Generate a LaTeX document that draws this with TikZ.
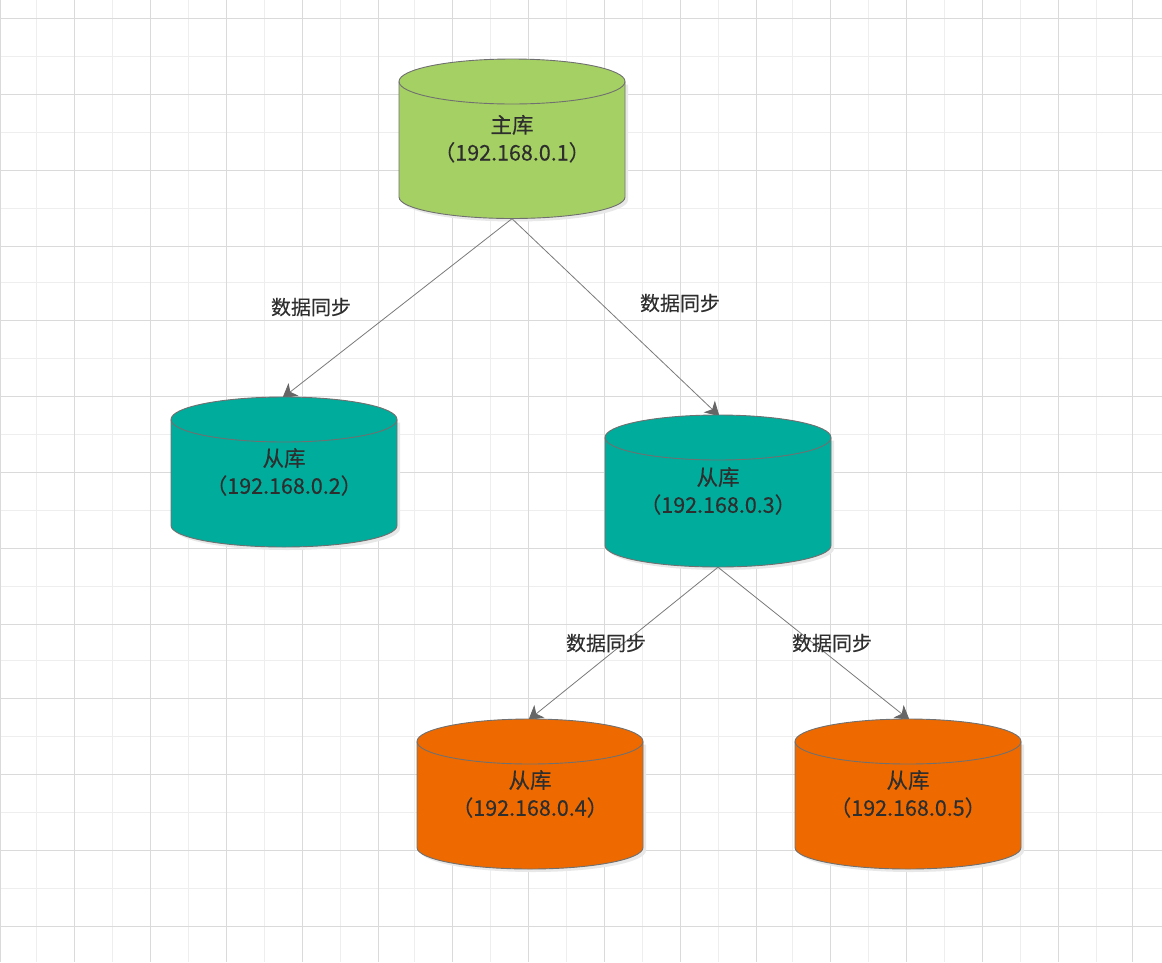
\documentclass[tikz,border=0pt]{standalone}
\usepackage{fontspec}
\setmainfont[FakeBold=0.25]{Noto Sans CJK SC}
\usetikzlibrary{arrows.meta}
\pgfdeclarelayer{gridlayer}
\pgfdeclarelayer{linklayer}
\pgfsetlayers{gridlayer,linklayer,main}
\definecolor{majorgrid}{HTML}{DADADA}
\definecolor{minorgrid}{HTML}{EEEEEE}
\definecolor{dbgreen}{HTML}{A5D063}
\definecolor{dbteal}{HTML}{00AC9C}
\definecolor{dborange}{HTML}{EE6A00}
\definecolor{dbedge}{HTML}{707070}
\definecolor{dbshadow}{HTML}{E8E8E8}
\definecolor{inkdark}{HTML}{2E2E2E}
\definecolor{linkgrey}{HTML}{7A7A7A}
\definecolor{tipgrey}{HTML}{666666}
\tikzset{
  majorline/.style={draw=majorgrid,line width=1.2pt},
  minorline/.style={draw=minorgrid,line width=1.1pt},
  dbbody/.style={draw=dbedge,line width=0.9pt,line join=round},
  dbtext/.style={rectangle,inner sep=0pt,align=center,text=inkdark,
    font=\fontsize{21.5}{27.5}\selectfont},
  synclabel/.style={inner sep=0pt,text=inkdark,font=\fontsize{20}{24}\selectfont},
  synclink/.style={draw=linkgrey,line width=0.8pt,shorten >=-2pt,
    -{Stealth[length=14pt,width=16pt,inset=4pt,color=tipgrey]}},
}
% name, centre x, top y, bottom y, colour, text
\newcommand\dbcyl[6]{%
  \pgfmathsetmacro\cylL{#2-113}%
  \pgfmathsetmacro\cylR{#2+113}%
  \pgfmathsetmacro\cylA{#3+22.5}%
  \pgfmathsetmacro\cylB{#4-21.5}%
  \pgfmathsetmacro\cylM{(#3+#4)/2}%
  \pgfmathsetmacro\cylH{#4-#3}%
  \begin{pgfonlayer}{gridlayer}
  \fill[dbshadow] (\cylL+3,\cylA+3) -- (\cylL+3,\cylB+3)
     arc[start angle=180,end angle=360,x radius=113pt,y radius=21.5pt]
     -- (\cylR+3,\cylA+3) -- cycle;
  \end{pgfonlayer}
  \path[dbbody,fill=#5] (\cylL,\cylA) -- (\cylL,\cylB)
     arc[start angle=180,end angle=360,x radius=113pt,y radius=21.5pt]
     -- (\cylR,\cylA)
     arc[start angle=0,end angle=180,x radius=113pt,y radius=22.5pt] -- cycle;
  \draw[dbbody] (\cylL,\cylA)
     arc[start angle=180,end angle=360,x radius=113pt,y radius=22.5pt];
  \node[dbtext,minimum width=226pt,minimum height=\cylH pt] (#1) at (#2,\cylM) {#6};
}
\begin{document}
\begin{tikzpicture}[x=1pt,y=-1pt]
\useasboundingbox (0,0) rectangle (1162,962);
\begin{pgfonlayer}{gridlayer}
  \fill[white] (0,0) rectangle (1162,962);
  \foreach \gx in {36.5,112.5,188.5,264.5,340.5,414.5,490.5,566.5,642.5,718.5,792.5,868.5,944.5,1020.5,1096.5}
    \draw[minorline] (\gx,0) -- (\gx,962);
  \foreach \gy in {56.5,132.5,208.5,282.5,358.5,434.5,510.5,586.5,660.5,736.5,812.5,888.5}
    \draw[minorline] (0,\gy) -- (1162,\gy);
  \foreach \gx in {0.5,74.5,150.5,226.5,302.5,378.5,452.5,528.5,604.5,680.5,756.5,830.5,906.5,982.5,1058.5,1132.5}
    \draw[majorline] (\gx,0) -- (\gx,962);
  \foreach \gy in {18.5,94.5,170.5,246.5,320.5,396.5,472.5,548.5,624.5,698.5,774.5,850.5,926.5}
    \draw[majorline] (0,\gy) -- (1162,\gy);
\end{pgfonlayer}

\dbcyl{master}{512}{59}{218.5}{dbgreen}{主库\\（192.168.0.1）}
\dbcyl{slaveb}{284}{397}{547}{dbteal}{从库\\（192.168.0.2）}
\dbcyl{slavec}{718}{415}{567}{dbteal}{从库\\（192.168.0.3）}
\dbcyl{slaved}{530}{719}{869}{dborange}{从库\\（192.168.0.4）}
\dbcyl{slavee}{908}{719}{869}{dborange}{从库\\（192.168.0.5）}

\begin{pgfonlayer}{linklayer}
  \draw[synclink] (master.south) -- (slaveb.north);
  \draw[synclink] (master.south) -- (slavec.north);
  \draw[synclink] (slavec.south) -- (slaved.north);
  \draw[synclink] (slavec.south) -- (slavee.north);
\end{pgfonlayer}

\node[synclabel] (syncb) at (311,307) {数据同步};
\node[synclabel] (syncc) at (680,303) {数据同步};
\node[synclabel] (syncd) at (606,643) {数据同步};
\node[synclabel] (synce) at (832,643) {数据同步};
\end{tikzpicture}
\end{document}
